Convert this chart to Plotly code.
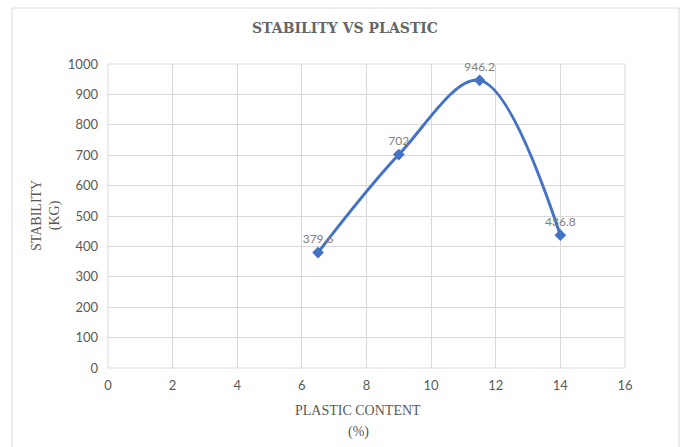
import plotly.graph_objects as go

# Marshall stability against plastic content
plastic_content = [6.5, 9, 11.5, 14]
stability = [379.6, 702, 946.2, 436.8]
value_labels = ["379.6", "702", "946.2", "436.8"]

x_ticks = [0, 2, 4, 6, 8, 10, 12, 14, 16]
y_ticks = [0, 100, 200, 300, 400, 500, 600, 700, 800, 900, 1000]

W, H = 684, 447
L, R, T, B = 108, 59, 64, 79
plot_w = W - L - R
plot_h = H - T - B

def px_x(p):
    return (p - L) / plot_w

def px_y(p):
    return (H - B - p) / plot_h

grid = "#d9d9d9"
text_grey = "#595959"
serif = "Liberation Serif, DejaVu Serif, serif"
title_serif = "DejaVu Serif, Liberation Serif, serif"
sans = "Lato, Liberation Sans, sans-serif"

fig = go.Figure()
fig.add_trace(go.Scatter(
    x=plastic_content,
    y=stability,
    mode="lines+markers+text",
    line=dict(color="#4472C4", width=3, shape="spline", smoothing=1.0),
    marker=dict(symbol="diamond", size=9, color="#4472C4"),
    text=value_labels,
    textposition="top center",
    textfont=dict(family=sans, size=12, color="#808080"),
    cliponaxis=False,
    showlegend=False,
))

fig.update_layout(
    width=W,
    height=H,
    margin=dict(l=L, r=R, t=T, b=B),
    paper_bgcolor="white",
    plot_bgcolor="white",
    title=dict(
        text="<b>STABILITY VS PLASTIC</b>",
        x=345 / W,
        xanchor="center",
        y=1 - 28 / H,
        yanchor="middle",
        font=dict(family=title_serif, size=14, color="#666666"),
    ),
    xaxis=dict(
        range=[0, 16],
        tickvals=x_ticks,
        showgrid=True,
        gridcolor=grid,
        gridwidth=1,
        zeroline=False,
        showline=False,
        tickfont=dict(family=sans, size=13, color=text_grey),
        ticks="",
        ticklabelstandoff=8,
        fixedrange=True,
    ),
    yaxis=dict(
        range=[0, 1000],
        tickvals=y_ticks,
        showgrid=True,
        gridcolor=grid,
        gridwidth=1,
        zeroline=False,
        showline=False,
        tickfont=dict(family=sans, size=13, color=text_grey),
        ticks="",
        ticklabelstandoff=9,
        fixedrange=True,
    ),
    shapes=[
        # chart outer frame
        dict(type="rect", xref="paper", yref="paper",
             x0=px_x(12), x1=px_x(679), y0=px_y(460), y1=px_y(8),
             line=dict(color=grid, width=1), layer="below"),
        # plot area frame
        dict(type="rect", xref="paper", yref="paper",
             x0=0, x1=1, y0=0, y1=1,
             line=dict(color=grid, width=1), layer="below"),
    ],
    annotations=[
        dict(text="PLASTIC CONTENT", xref="paper", yref="paper",
             x=px_x(358), y=px_y(410), xanchor="center", yanchor="middle",
             showarrow=False, font=dict(family=serif, size=14, color=text_grey)),
        dict(text="(%)", xref="paper", yref="paper",
             x=px_x(358), y=px_y(432), xanchor="center", yanchor="middle",
             showarrow=False, font=dict(family=serif, size=14, color=text_grey)),
        dict(text="STABILITY<br>(KG)", xref="paper", yref="paper",
             x=px_x(46), y=px_y(216), xanchor="center", yanchor="middle",
             textangle=-90, showarrow=False,
             font=dict(family=serif, size=14, color=text_grey)),
    ],
)

fig.write_html("out.html")
